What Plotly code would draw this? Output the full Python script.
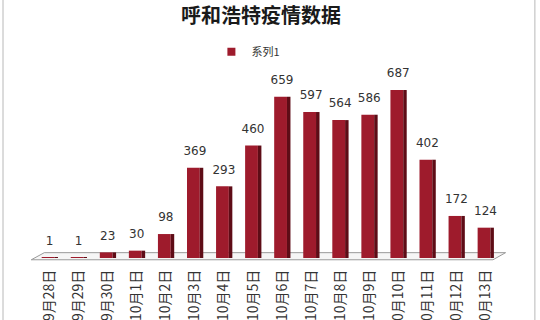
import plotly.graph_objects as go

categories = ["9月28日", "9月29日", "9月30日", "10月1日", "10月2日", "10月3日", "10月4日", "10月5日",
              "10月6日", "10月7日", "10月8日", "10月9日", "10月10日", "10月11日", "10月12日", "10月13日"]
values = [1, 1, 23, 30, 98, 369, 293, 460, 659, 597, 564, 586, 687, 402, 172, 124]
series_name = "系列1"
title_text = "呼和浩特疫情数据"

FRONT = "#9E1B2C"
SIDE = "#5E0C16"

fig = go.Figure()
# front face
fig.add_trace(go.Bar(x=categories, y=values, name=series_name, marker=dict(color=FRONT, line=dict(width=0)),
                     width=0.44, offset=-0.27, showlegend=False))
# side face (3D effect)
fig.add_trace(go.Bar(x=categories, y=values, marker=dict(color=SIDE, line=dict(width=0)),
                     width=0.12, offset=0.17, showlegend=False, hoverinfo="skip"))
# data labels
fig.add_trace(go.Scatter(x=categories, y=values, mode="markers+text", text=[str(v) for v in values],
                         textposition="top center", marker=dict(size=14, opacity=0),
                         textfont=dict(family="DejaVu Sans", size=12, color="#333333"),
                         showlegend=False, hoverinfo="skip", cliponaxis=False))
# legend entry (small square)
fig.add_trace(go.Scatter(x=[None], y=[None], mode="markers", name=series_name,
                         marker=dict(symbol="square", size=8, color=FRONT), showlegend=True))

# floor (3D base)
fig.add_shape(type="path", xref="paper", yref="paper",
              path="M -0.008 -0.01 L 0.985 -0.01 L 1.012 0.03 L 0.02 0.03 Z",
              line=dict(color="#999999", width=1), fillcolor="rgba(240,240,240,0.6)", layer="below")
# chart border (left / right)
for xb in (-0.0688, 1.075):
    fig.add_shape(type="line", xref="paper", yref="paper", x0=xb, x1=xb, y0=-0.36, y1=1.46,
                  line=dict(color="#B8B8B8", width=1))

fig.update_layout(
    width=540, height=320,
    margin=dict(l=35, r=40, t=80, b=62),
    paper_bgcolor="white", plot_bgcolor="white",
    barmode="overlay",
    title=dict(text="<b>" + title_text + "</b>", x=261 / 540, xref="container", xanchor="center",
               y=0.95, yref="container", yanchor="middle",
               font=dict(family="Noto Sans CJK SC", size=20, color="#1a1a1a")),
    legend=dict(orientation="h", xref="container", yref="container", x=0.46, y=0.838,
                xanchor="center", yanchor="middle",
                font=dict(family="Noto Sans CJK SC", size=11, color="#333333"),
                bgcolor="rgba(0,0,0,0)"),
    xaxis=dict(range=[-0.5, 15.5], tickangle=-90, showline=False, showgrid=False, ticks="",
               ticklabelstandoff=8, automargin=False,
               tickfont=dict(family="Noto Sans CJK SC", size=14, color="#333333")),
    yaxis=dict(range=[0, 728], visible=False, automargin=False),
    showlegend=True,
)

fig.write_html("out.html")
